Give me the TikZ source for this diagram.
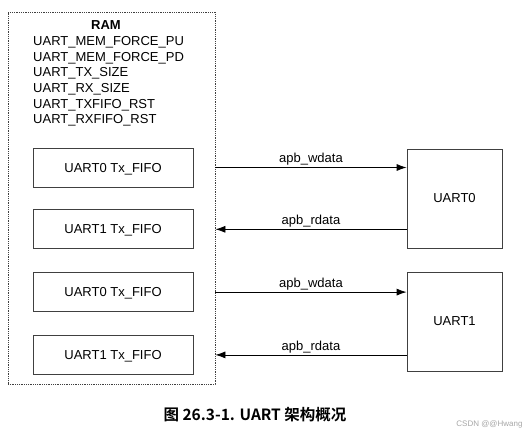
\documentclass[tikz,border=0pt]{standalone}
\usepackage{fontspec}
\setmainfont{Liberation Sans}
\newfontfamily\cjk{Noto Sans CJK SC}[BoldFont={Noto Sans CJK SC Bold}]
\usetikzlibrary{arrows.meta,positioning}
\tikzset{x=1pt, y=-1pt,
    every node/.style={font=\fontsize{13}{15.6}\selectfont},
    rambox/.style={draw=black!75, densely dotted, line width=0.8pt},
    fifo/.style={draw=black!75, line width=0.8pt, minimum width=160pt, minimum height=39pt,
        inner sep=0pt, text height=9.3pt, text depth=0pt},
    uartbox/.style={draw=black!75, line width=0.8pt, minimum width=95pt, minimum height=99pt, inner sep=0pt},
    bus/.style={line width=0.8pt, -{Latex[length=10pt,width=7pt]}},
    buslabel/.style={above, inner sep=1.5pt},
    }

\begin{document}
\begin{tikzpicture}
	\useasboundingbox (0,0) rectangle (528,436);
	% RAM side
	\node[rambox, minimum width=207pt, minimum height=372pt] (ram) at (111.5,198) {};
	\node[font=\fontsize{13}{15.6}\selectfont\bfseries] (ramtitle) at (106,25) {RAM};
	\node[anchor=north west, align=left, inner sep=0pt] (regs) at (33,36.5)
		{UART\_MEM\_FORCE\_PU\\UART\_MEM\_FORCE\_PD\\UART\_TX\_SIZE\\UART\_RX\_SIZE\\UART\_TXFIFO\_RST\\UART\_RXFIFO\_RST};
	\node[fifo] (fifoa) at (113,167.5) {UART0 Tx\_FIFO};
	\node[fifo, below=22pt of fifoa] (fifob) {UART1 Tx\_FIFO};
	\node[fifo, below=23pt of fifob] (fifoc) {UART0 Tx\_FIFO};
	\node[fifo, below=23pt of fifoc] (fifod) {UART1 Tx\_FIFO};
	% UART side
	\node[uartbox] (uart0) at (454.5,198.5) {UART0};
	\node[uartbox] (uart1) at (454.5,321.5) {UART1};
	% buses
	\draw[bus] (ram.east |- fifoa) -- node[buslabel] {apb\_wdata} (uart0.west |- fifoa);
	\draw[bus] (uart0.west |- fifob) -- node[buslabel] {apb\_rdata} (ram.east |- fifob);
	\draw[bus] (ram.east |- fifoc) -- node[buslabel] {apb\_wdata} (uart1.west |- fifoc);
	\draw[bus] (uart1.west |- fifod) -- node[buslabel] {apb\_rdata} (ram.east |- fifod);
	% caption
	\node[font=\cjk\bfseries\fontsize{15.5}{18}\selectfont] (caption) at (255,415) {图 26.3-1. UART 架构概况};
	\node[font=\fontsize{8}{9}\selectfont, text=black!35, anchor=east] (mark) at (526,424) {CSDN @@Hwang};
\end{tikzpicture}
\end{document}
